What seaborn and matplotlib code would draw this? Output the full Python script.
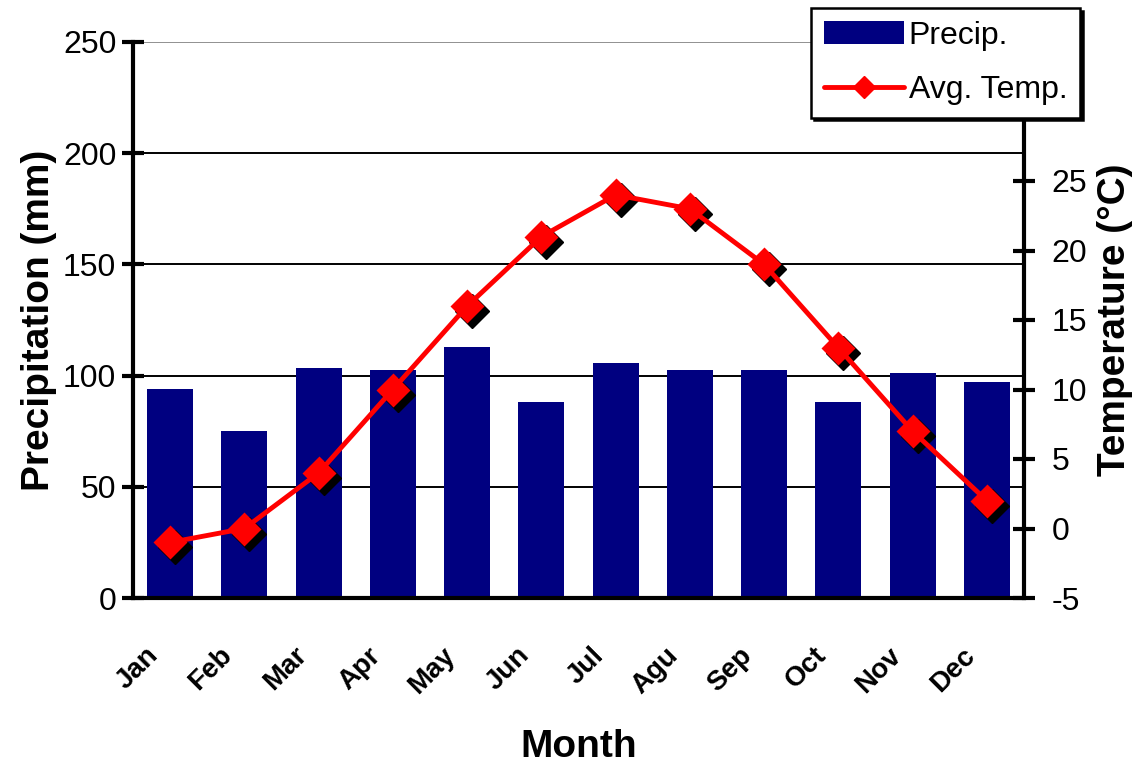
import matplotlib
matplotlib.use('Agg')
import matplotlib.pyplot as plt
from matplotlib.transforms import offset_copy, ScaledTranslation
from matplotlib.patches import Patch
from matplotlib.lines import Line2D
import pandas as pd
import seaborn as sns

months = ['Jan', 'Feb', 'Mar', 'Apr', 'May', 'Jun', 'Jul', 'Agu', 'Sep', 'Oct', 'Nov', 'Dec']
precip = [94, 75, 103.5, 102.5, 113, 88, 105.5, 102.5, 102.5, 88, 101, 97]
temp = [-1, 0, 4, 10, 16, 21, 24, 23, 19, 13, 7, 2]
precip_ticks = [0, 50, 100, 150, 200, 250]
temp_ticks = [-5, 0, 5, 10, 15, 20, 25]

df = pd.DataFrame({'Month': months, 'Precip': precip, 'Temp': temp})

sns.set_style('white')
plt.rcParams['font.family'] = ['Liberation Sans', 'DejaVu Sans']
plt.rcParams['text.color'] = 'black'
plt.rcParams['axes.labelcolor'] = 'black'
plt.rcParams['xtick.color'] = 'black'
plt.rcParams['ytick.color'] = 'black'
plt.rcParams['axes.unicode_minus'] = False

navy = '#000080'
red = '#ff0000'

fig = plt.figure(figsize=(11.42, 7.64), dpi=100)
ax = fig.add_axes([133 / 1142, 1 - 598 / 764, (1024 - 133) / 1142, (598 - 42) / 764])

sns.barplot(data=df, x='Month', y='Precip', color=navy, saturation=1, width=0.62, ax=ax, zorder=2)
for b in ax.patches:
    b.set_edgecolor('none')

ax.set_ylim(0, 250)
ax.set_xlim(-0.5, 11.5)
ax.set_yticks(precip_ticks)
ax.yaxis.grid(True, color='black', linewidth=1.4, zorder=0)
ax.set_axisbelow(True)
ax.get_ygridlines()[-1].set_color('#909090')
ax.get_ygridlines()[0].set_visible(False)

ax.tick_params(axis='y', direction='inout', length=16, width=3, color='black', labelsize=23, pad=4)
for s in ['left', 'bottom']:
    ax.spines[s].set_linewidth(3)
    ax.spines[s].set_color('black')
ax.spines['top'].set_visible(False)
ax.spines['right'].set_visible(False)

ax.set_xlabel('Month', fontsize=28, fontweight='bold', labelpad=22)
ax.set_ylabel('Precipitation (mm)', fontsize=28, fontweight='bold', labelpad=4)

ax2 = ax.twinx()
shadow = offset_copy(ax2.transData, fig=fig, x=5, y=-5, units='dots')
ax2.plot(range(len(months)), temp, linestyle='none', marker='D', markersize=17,
         color='black', transform=shadow, zorder=3)
sns.lineplot(x=range(len(months)), y=temp, color=red, linewidth=3.5, marker='D',
             markersize=17, markeredgecolor='none', ax=ax2, zorder=4)
ax2.set_ylim(-5, 35)
ax2.set_yticks(temp_ticks)
ax2.tick_params(axis='y', direction='inout', length=16, width=3, color='black', labelsize=23, pad=12)
ax2.spines['right'].set_linewidth(3)
ax2.spines['right'].set_color('black')
for s in ['left', 'top', 'bottom']:
    ax2.spines[s].set_visible(False)
ax2.set_ylabel('Temperature (°C)', fontsize=28, fontweight='bold', labelpad=7)

# month labels sit down-left of the bars, ticks at the category boundaries
ax.set_xticks(range(len(months)))
ax.set_xticklabels(months, rotation=45, ha='right', va='top', rotation_mode='anchor',
                   fontsize=20, fontweight='bold')
ax.tick_params(axis='x', which='major', length=0, pad=32)
ax.set_xticks([i - 0.5 for i in range(len(months) + 1)], minor=True)
ax.tick_params(axis='x', which='minor', direction='inout', length=16, width=3, color='black')
shift = ScaledTranslation(-0.25, 0, fig.dpi_scale_trans)
for lab in ax.get_xticklabels():
    lab.set_transform(lab.get_transform() + shift)

handles = [Patch(facecolor=navy, edgecolor='none', label='Precip.'),
           Line2D([0], [0], color=red, linewidth=3.5, marker='D', markersize=11, label='Avg. Temp.')]
leg = fig.legend(handles=handles, loc='upper right', bbox_to_anchor=(1080 / 1142, 1 - 8 / 764),
                 fontsize=23, frameon=True, fancybox=False, handlelength=2.5, handletextpad=0.15,
                 borderpad=0.4, labelspacing=0.75, borderaxespad=0,
                 shadow={'color': 'black', 'alpha': 1})
leg.get_frame().set_edgecolor('black')
leg.get_frame().set_linewidth(1.8)
leg.set_zorder(10)

fig.savefig('out.png', dpi=100, facecolor='white')
